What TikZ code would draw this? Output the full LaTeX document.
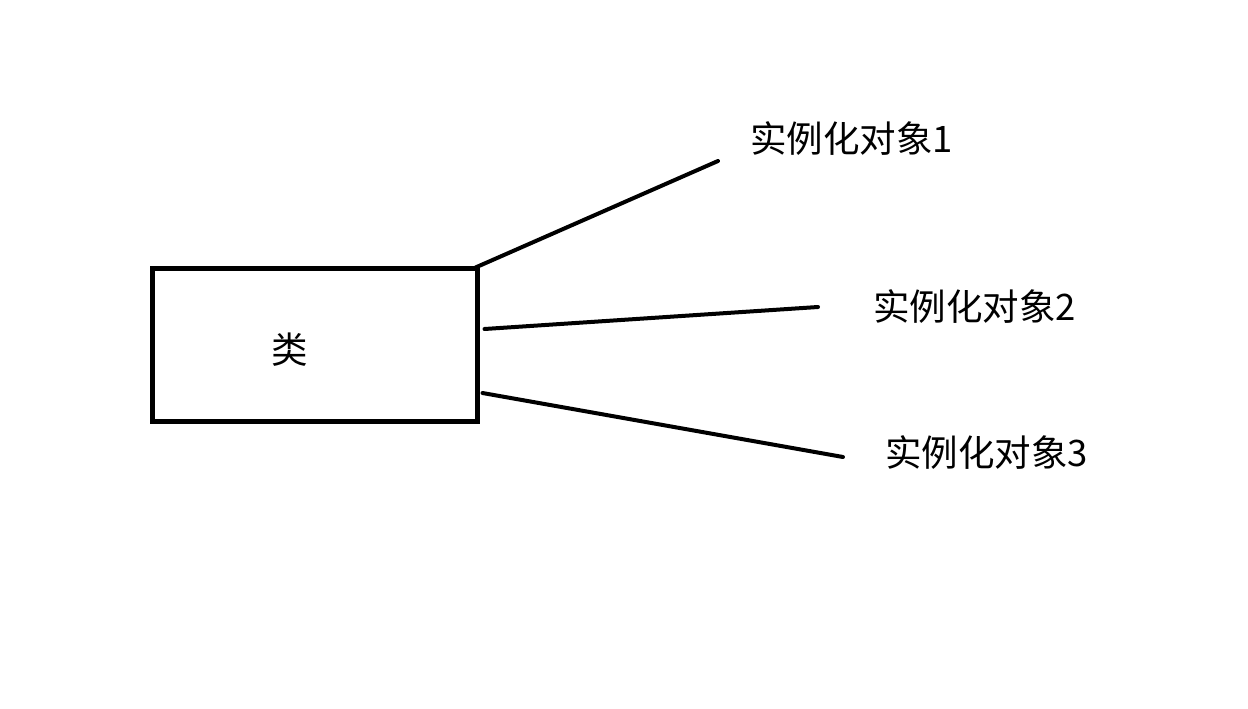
\documentclass[tikz,border=0pt]{standalone}
\usepackage{fontspec}
\newfontfamily\cjk{Noto Sans CJK SC}
\usetikzlibrary{calc}
\tikzset{
  classbox/.style={draw=black, line width=5pt, minimum width=325pt, minimum height=153pt, inner sep=0pt},
  conn/.style={draw=black, line width=4pt, line cap=round},
  lbl/.style={font=\cjk\fontsize{36.5}{40}\selectfont, inner sep=0pt, anchor=west, text=black},
}
\begin{document}
\begin{tikzpicture}[x=1pt,y=-1pt]
  \useasboundingbox (0,0) rectangle (1248,709);
  \node[classbox] (box) at (314.5,344.5) {};
  \node[font=\cjk\fontsize{36.5}{40}\selectfont, inner sep=0pt] (cls) at (290,350) {类};
  \node[lbl] (o1) at (750,139) {实例化对象1};
  \node[lbl] (o2) at (873,307) {实例化对象2};
  \node[lbl] (o3) at (885,453) {实例化对象3};
  \coordinate (e1) at (718,161);
  \coordinate (e2) at (818,307);
  \coordinate (e3) at (843,457);
  \draw[conn] ([xshift=-4pt,yshift=-2pt]box.north east) -- (e1);
  \draw[conn] ([xshift=5pt,yshift=15.5pt]box.east) -- (e2);
  \draw[conn] ([xshift=3pt,yshift=-48.5pt]box.east) -- (e3);
\end{tikzpicture}
\end{document}
